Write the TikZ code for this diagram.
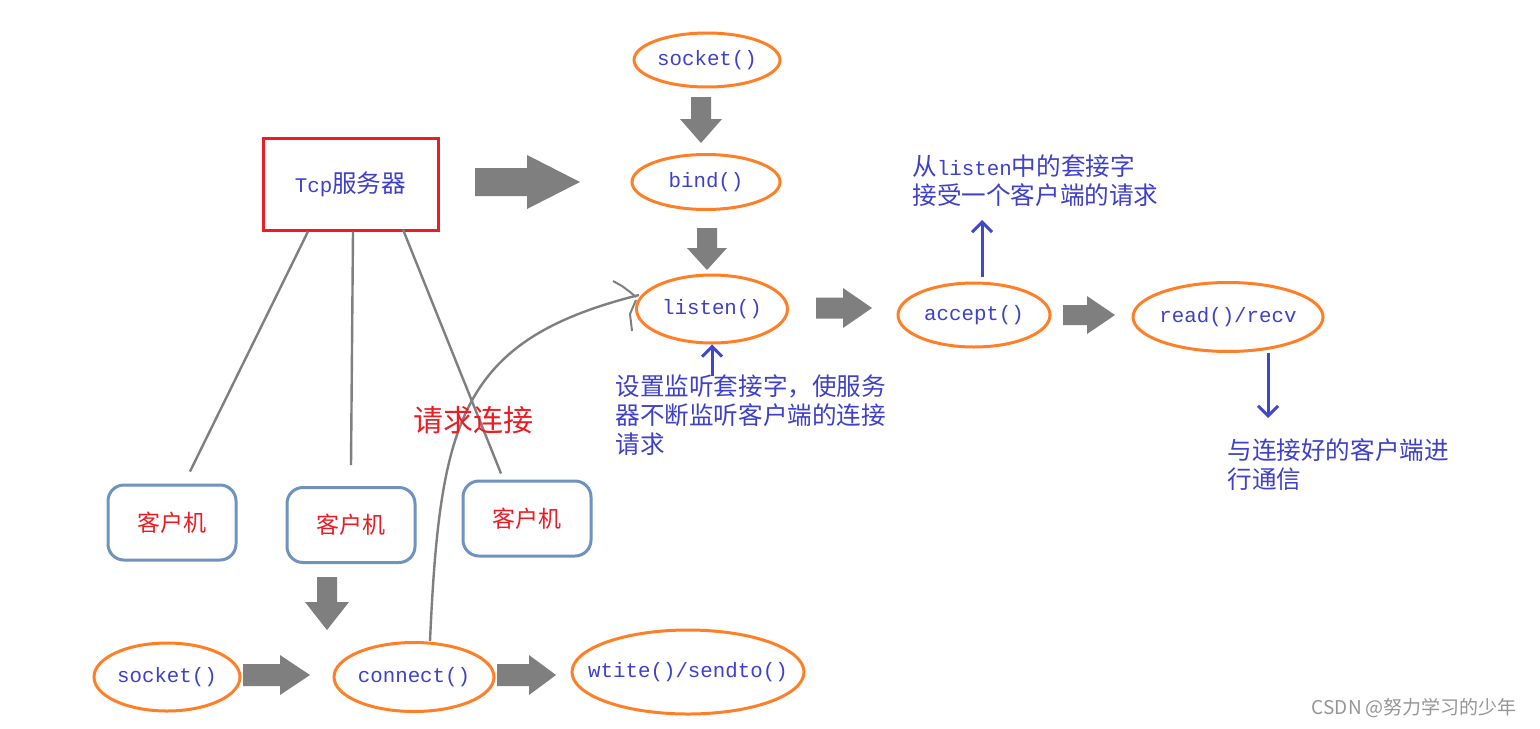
\documentclass[tikz,border=0pt]{standalone}
\usepackage{fontspec}
\setmainfont{Liberation Mono}
\newfontfamily\cjkfont{Noto Sans CJK SC}
\usetikzlibrary{arrows.meta,shapes.geometric,calc}
\definecolor{orng}{RGB}{255,127,39}
\definecolor{txtblue}{RGB}{63,64,204}
\definecolor{arrblue}{RGB}{63,72,204}
\definecolor{redc}{RGB}{237,28,36}
\definecolor{boxblue}{RGB}{112,146,190}
\definecolor{grayc}{RGB}{127,127,127}
\definecolor{wmgray}{RGB}{150,150,150}
\newcommand\zh[1]{{\cjkfont\fontsize{12.3pt}{14.5pt}\selectfont #1}}
% right-pointing block arrow: tail x, y, length, half shaft, half head, head length
\newcommand\grarr[6]{\fill[grayc] (#1,#2-#4) -- (#1+#3-#6,#2-#4) -- (#1+#3-#6,#2-#5) -- (#1+#3,#2) -- (#1+#3-#6,#2+#5) -- (#1+#3-#6,#2+#4) -- (#1,#2+#4) -- cycle;}
% down-pointing block arrow
\newcommand\gdarr[6]{\fill[grayc] (#1-#4,#2) -- (#1-#4,#2+#3-#6) -- (#1-#5,#2+#3-#6) -- (#1,#2+#3) -- (#1+#5,#2+#3-#6) -- (#1+#4,#2+#3-#6) -- (#1+#4,#2) -- cycle;}
\begin{document}
\begin{tikzpicture}[x=0.5pt,y=-0.5pt,
  fn/.style={ellipse, draw=orng, line width=1.5pt, inner sep=0pt, text=txtblue, font=\fontsize{10.4pt}{12pt}\selectfont},
  client/.style={draw=boxblue, line width=1.5pt, rounded corners=8pt, minimum width=64pt, minimum height=37.5pt, text=redc, font=\cjkfont\fontsize{11.5pt}{13pt}\selectfont},
  link/.style={draw=grayc, line width=1.2pt},
  note/.style={text=txtblue, align=left, inner sep=0pt, anchor=north west, font=\fontsize{10.4pt}{14.5pt}\selectfont},
  bluearr/.style={draw=arrblue, line width=1.5pt, -{Straight Barb[length=5pt,width=10pt,line width=1.5pt]}}]
\useasboundingbox (0,0) rectangle (1540,728);
\fill[white] (0,0) rectangle (1540,728);

% server side
\node[fn, minimum width=73pt, minimum height=27pt] (s1) at (707,60) {socket()};
\node[fn, minimum width=74pt, minimum height=27.5pt] (bind) at (706,182) {bind()};
\node[fn, minimum width=75.5pt, minimum height=34pt] (lis) at (712,309) {listen()};
\node[fn, minimum width=76pt, minimum height=32pt] (acc) at (974,315) {accept()};
\node[fn, minimum width=95pt, minimum height=34.5pt, inner xsep=-1.5pt] (rd) at (1228,317) {read()/recv};

% client side
\node[fn, minimum width=73pt, minimum height=34pt] (s2) at (167,677) {socket()};
\node[fn, minimum width=80pt, minimum height=34.5pt] (conn) at (414,677) {connect()};
\node[fn, minimum width=116pt, minimum height=42pt, inner xsep=-9pt] (wt) at (688,672) {wtite()/sendto()};

% server box and clients
\node[draw=redc, line width=1.5pt, minimum width=87.5pt, minimum height=46pt, text=txtblue, font=\fontsize{10.4pt}{12pt}\selectfont] (tcp) at (350.5,184) {Tcp\zh{服务器}};
\node[client] (c1) at (172,522.5) {客户机};
\node[client] (c2) at (351,525) {客户机};
\node[client] (c3) at (527,518.5) {客户机};

\coordinate (e1) at ($(c1.north)+(18,-12)$);
\coordinate (e2) at ($(c2.north)+(0,-21)$);
\coordinate (e3) at ($(c3.north)+(-26,-6)$);
\draw[link] ($(tcp.south)+(-42.5,0)$) -- (e1);
\draw[link] ($(tcp.south)+(2.5,0)$) -- (e2);
\draw[link] ($(tcp.south)+(52.5,-2)$) -- (e3);

% request curve
\draw[link] ($(conn.north)+(16,0)$) .. controls (440,420) and (460,340) .. ($(lis.west)+(4,-14)$);
\draw[link, line width=1pt] (613,281) -- (622,286) -- (630,292) -- (636,297);
\draw[link, line width=1pt] (632,331) -- (630,314) -- (636,300);
\node[text=redc, font=\cjkfont\fontsize{15pt}{18pt}\selectfont] (req) at (473,420) {请求连接};

% gray block arrows
\grarr{475}{182}{105}{14}{27}{53}
\grarr{816}{308}{56}{10.5}{20}{29}
\grarr{1063}{315}{52}{10}{19}{28}
\grarr{243}{675}{67}{11}{20}{30}
\grarr{497}{675}{59}{11}{20}{27}
\gdarr{701}{97}{46}{10}{21}{24}
\gdarr{707}{228}{42}{10}{20}{22}
\gdarr{327}{577}{53}{10}{22}{28}

% notes
\node[note] (t1) at (912,154) {\zh{从}listen\zh{中的套接字}\\\zh{接受一个客户端的请求}};
\node[note] (t2) at (615,374) {\zh{设置监听套接字，使服务}\\\zh{器不断监听客户端的连接}\\\zh{请求}};
\node[note] (t3) at (1227,438) {\zh{与连接好的客户端进}\\\zh{行通信}};

\coordinate (a1) at (982,220);
\coordinate (a2) at (1268,418);
\draw[bluearr] (712,376) -- (lis.south);
\draw[bluearr] ($(acc.north)+(8,-5)$) -- (a1);
\draw[bluearr] ($(rd.south)+(40,0)$) -- (a2);

\node[text=wmgray, font=\cjkfont\fontsize{9.5pt}{11pt}\selectfont, anchor=east] (wm) at (1524,708) {CSDN @努力学习的少年};
\end{tikzpicture}
\end{document}
